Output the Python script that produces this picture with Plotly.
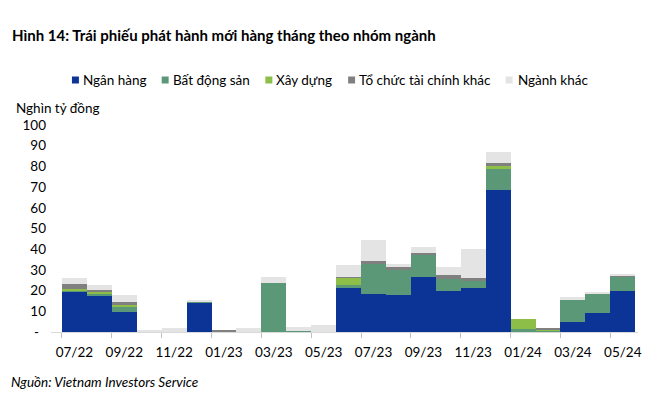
import plotly.graph_objects as go

months = ["07/22", "08/22", "09/22", "10/22", "11/22", "12/22", "01/23", "02/23",
          "03/23", "04/23", "05/23", "06/23", "07/23", "08/23", "09/23", "10/23",
          "11/23", "12/23", "01/24", "02/24", "03/24", "04/24", "05/24"]

ngan_hang = [19.5, 17.5, 9.5, 0, 0, 14.2, 0, 0, 0, 0, 0, 21.4, 18.2, 18.0, 26.7,
             19.8, 21.4, 68.6, 0, 0, 5.0, 9.3, 19.8]
bat_dong_san = [0.7, 1.3, 2.7, 0, 0, 0.7, 0.4, 0, 23.8, 0.6, 0, 1.5, 14.8, 12.4,
                10.3, 5.8, 3.7, 10.1, 1.3, 0.6, 10.9, 9.1, 6.6]
xay_dung = [0.4, 0.8, 1.3, 0, 0, 0, 0, 0, 0, 0, 0, 3.2, 0, 0, 0, 0, 0, 1.5, 4.8,
            0.8, 0, 0, 0]
to_chuc_tc = [2.7, 0.8, 0.8, 0, 0, 0, 0.2, 0, 0, 0, 0, 0.7, 1.2, 0.8, 1.0, 1.9,
              0.8, 1.4, 0, 0.5, 0, 0, 1.1]
nganh_khac = [2.7, 2.2, 3.6, 0.5, 1.8, 0.4, 0, 1.8, 2.9, 2.0, 3.2, 5.6, 10.2, 1.6,
              3.2, 4.0, 14.0, 5.2, 0, 0, 0.8, 0.5, 0.4]

series_names = ["Ngân hàng", "Bất động sản", "Xây dựng", "Tổ chức tài chính khác", "Ngành khác"]
series_values = [ngan_hang, bat_dong_san, xay_dung, to_chuc_tc, nganh_khac]
colors = ["#0B3496", "#5B9878", "#8CBE48", "#808080", "#E4E4E4"]

y_ticks = [0, 10, 20, 30, 40, 50, 60, 70, 80, 90, 100]
y_ticktext = ["-\u00a0\u00a0"] + [str(v) for v in y_ticks[1:]]

FONT = "Lato"
W, H = 654, 404
L, T, B = 51, 125, 332
x_min, x_max = -0.94, 22.61
PPU = 25.0
PW = (x_max - x_min) * PPU
R = L + PW
PH = B - T

def px(xp):
    return (xp - L) / PW

def py(yp):
    return (B - yp) / PH

x_idx = list(range(len(months)))

fig = go.Figure()
for name, vals, col in zip(series_names, series_values, colors):
    fig.add_trace(go.Bar(x=x_idx, y=vals, name=name, marker=dict(color=col, line=dict(width=0)),
                         width=1.0, showlegend=False))

annotations = []
shapes = []
# Title
annotations.append(dict(text="<b>Hình 14: Trái phiếu phát hành mới hàng tháng theo nhóm ngành</b>",
                        xref="paper", yref="paper", x=px(10), y=py(35), xanchor="left", yanchor="middle",
                        showarrow=False, font=dict(family=FONT, size=15, color="#000000")))
# Legend (manual)
sq_x = [72, 162, 266, 349, 507]
txt_x = [81, 171, 275, 358, 517]
ly = 80
for name, col, sx, tx in zip(series_names, colors, sq_x, txt_x):
    shapes.append(dict(type="rect", xref="paper", yref="paper", x0=px(sx), x1=px(sx + 7),
                       y0=py(ly + 3.5), y1=py(ly - 3.5), fillcolor=col, line=dict(width=0)))
    annotations.append(dict(text=name, xref="paper", yref="paper", x=px(tx), y=py(ly),
                            xanchor="left", yanchor="middle", showarrow=False,
                            font=dict(family=FONT, size=13.5, color="#000000")))
# Y axis title
annotations.append(dict(text="Nghìn tỷ đồng", xref="paper", yref="paper", x=px(14), y=py(108),
                        xanchor="left", yanchor="middle", showarrow=False,
                        font=dict(family=FONT, size=13.5, color="#000000")))
# Source
annotations.append(dict(text="<i>Nguồn: Vietnam Investors Service</i>", xref="paper", yref="paper",
                        x=px(9), y=py(382), xanchor="left", yanchor="middle", showarrow=False,
                        font=dict(family=FONT, size=13.5, color="#000000")))

fig.update_layout(
    width=W, height=H,
    margin=dict(l=L, r=W - R, t=T, b=H - B, pad=0),
    barmode="stack", bargap=0,
    plot_bgcolor="white", paper_bgcolor="white",
    font=dict(family=FONT, size=13.5, color="#000000"),
    annotations=annotations, shapes=shapes,
)
fig.update_xaxes(range=[x_min, x_max], tickmode="array", tickvals=x_idx[::2],
                 ticktext=months[::2], ticks="", showline=True, linecolor="#D9D9D9",
                 linewidth=1, showgrid=False, zeroline=False, ticklabelstandoff=8,
                 tickfont=dict(family=FONT, size=13.5, color="#000000"),
                 minor=dict(tickmode="array", tickvals=[i - 0.5 for i in x_idx[::2]],
                            ticks="outside", ticklen=5, tickcolor="#BFBFBF", tickwidth=1,
                            showgrid=False))
fig.update_yaxes(range=[0, 100], tickmode="array", tickvals=y_ticks, ticktext=y_ticktext,
                 ticks="", showline=False, showgrid=False, zeroline=False,
                 ticklabelstandoff=4, tickfont=dict(family=FONT, size=13.5, color="#000000"))

fig.write_html("out.html")
